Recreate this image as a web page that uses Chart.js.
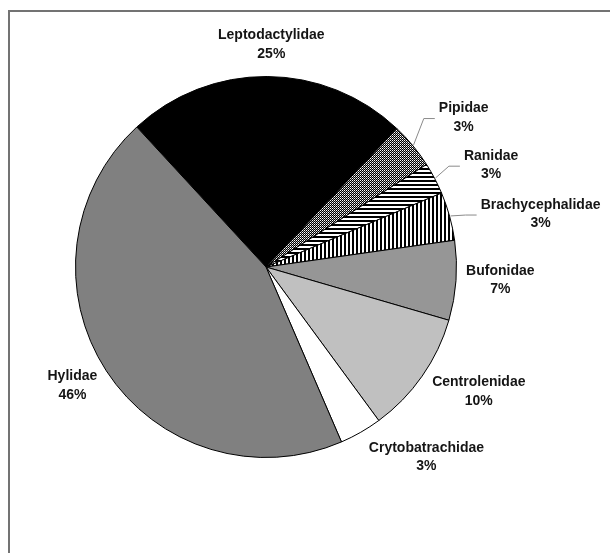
<!DOCTYPE html>
<html>
<head>
<meta charset="utf-8">
<script src="https://cdn.jsdelivr.net/npm/chart.js@4.4.1/dist/chart.umd.min.js"></script>
<style>
  html, body { margin: 0; padding: 0; background: #fff; }
  #wrap { position: relative; width: 610px; height: 553px; overflow: hidden; background: #fff; }
  #frame { position: absolute; left: 8px; top: 10px; width: 700px; height: 700px;
           border-left: 2px solid #737373; border-top: 2px solid #737373; box-sizing: border-box; }
  #c { position: absolute; left: 0; top: 0; }
</style>
</head>
<body>
<div id="wrap">
  <div id="frame"></div>
  <canvas id="c" width="610" height="553"></canvas>
</div>
<script>
// ---- data ----
const categories = ['Leptodactylidae', 'Pipidae', 'Ranidae', 'Brachycephalidae',
                    'Bufonidae', 'Centrolenidae', 'Crytobatrachidae', 'Hylidae'];
const shares = [23.9, 3.9, 2.7, 4.1, 6.75, 10.4, 3.6, 44.6];
// percentage labels printed on the chart
const pctLabels = ['25%', '3%', '3%', '3%', '7%', '10%', '3%', '46%'];

// ---- fills ----
function makePattern(w, h, draw) {
  const c = document.createElement('canvas');
  c.width = w; c.height = h;
  const g = c.getContext('2d');
  draw(g);
  return document.getElementById('c').getContext('2d').createPattern(c, 'repeat');
}
const dotted = makePattern(2, 2, g => {
  g.fillStyle = '#000'; g.fillRect(0, 0, 2, 2);
  g.fillStyle = '#fff'; g.fillRect(0, 0, 1, 1);
  g.fillStyle = '#a0a0a0'; g.fillRect(1, 1, 1, 1);
});
const hStripes = makePattern(4, 4, g => {
  g.fillStyle = '#fff'; g.fillRect(0, 0, 4, 4);
  g.fillStyle = '#000'; g.fillRect(0, 0, 4, 2);
});
const vStripes = makePattern(4, 4, g => {
  g.fillStyle = '#fff'; g.fillRect(0, 0, 4, 4);
  g.fillStyle = '#000'; g.fillRect(0, 0, 2, 4);
});
const fills = ['#000000', dotted, hStripes, vStripes, '#969696', '#c0c0c0', '#ffffff', '#808080'];

// ---- label plugin (positions derived from the arc geometry) ----
const labelPlugin = {
  id: 'pieLabels',
  afterDatasetsDraw(chart, args, opts) {
    const ctx = chart.ctx;
    const meta = chart.getDatasetMeta(0);
    ctx.save();
    ctx.font = opts.font;
    ctx.fillStyle = opts.color;
    ctx.textAlign = 'center';
    ctx.textBaseline = 'middle';
    meta.data.forEach((arc, i) => {
      const p = arc.getProps(['x', 'y', 'startAngle', 'endAngle', 'outerRadius'], true);
      const mid = (p.startAngle + p.endAngle) / 2;
      const cs = Math.cos(mid), sn = Math.sin(mid);
      const l1 = categories[i], l2 = pctLabels[i];
      const hw = Math.max(ctx.measureText(l1).width, ctx.measureText(l2).width) / 2;
      const hh = opts.lineHeight;
      const d = p.outerRadius + opts.gap + hw * Math.abs(cs) + hh * Math.abs(sn);
      const adj = (opts.adjust && opts.adjust[i]) || [0, 0];
      const cx = p.x + d * cs + adj[0];
      const cy = p.y + d * sn + adj[1];
      ctx.fillText(l1, cx, cy - opts.lineHeight / 2);
      ctx.fillText(l2, cx, cy + opts.lineHeight / 2);
      if (opts.leaders && opts.leaders.includes(i)) {
        const left = cx - ctx.measureText(l1).width / 2;
        ctx.beginPath();
        ctx.strokeStyle = opts.leaderColor;
        ctx.lineWidth = 1;
        ctx.moveTo(p.x + (p.outerRadius + 1) * cs, p.y + (p.outerRadius + 1) * sn);
        ctx.lineTo(left - 15, cy + 1);
        ctx.lineTo(left - 4, cy + 1);
        ctx.stroke();
      }
    });
    ctx.restore();
  }
};

new Chart(document.getElementById('c'), {
  type: 'pie',
  data: {
    labels: categories,
    datasets: [{
      data: shares,
      backgroundColor: fills,
      borderColor: '#000',
      borderWidth: 1
    }]
  },
  options: {
    responsive: false,
    animation: false,
    rotation: -42.7,
    layout: { padding: { left: 75, top: 76, right: 153, bottom: 95 } },
    plugins: {
      legend: { display: false },
      tooltip: { enabled: false },
      pieLabels: {
        font: 'bold 14px "Liberation Sans", Arial, sans-serif',
        color: '#151515',
        lineHeight: 18.5,
        gap: 13,
        leaders: [1, 2, 3],
        leaderColor: '#8a8a8a',
        adjust: [[4, 0], [17, 0], [16, 8], [18, 18], [-4, -4], [6, -20], [37, -25], [3, -9]]
      }
    }
  },
  plugins: [labelPlugin]
});
</script>
</body>
</html>
